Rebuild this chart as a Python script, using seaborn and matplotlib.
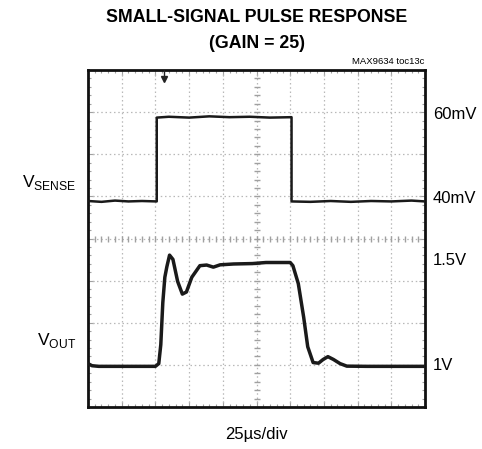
import numpy as np
import pandas as pd
import seaborn as sns
import matplotlib.pyplot as plt

# scope trace (time in us, 25us/div)
sense_t = [0, 10, 20, 30, 40, 51, 51, 60, 75, 90, 105, 120, 135, 151, 151, 165, 180, 195, 210, 225, 240, 250]
sense_mv = [39.5, 39.3, 39.6, 39.4, 39.5, 39.4, 59.3, 59.5, 59.3, 59.6, 59.4, 59.5, 59.3, 59.4, 39.4, 39.3, 39.5, 39.3, 39.5, 39.4, 39.6, 39.4]

out_t = [0, 3, 8, 50, 52.5, 54, 55.5, 57, 58.5, 60.5, 63, 66.5, 70, 73, 77, 83, 88, 93, 98,
         108, 122, 132, 150, 152, 156, 160, 163, 167, 171, 174.5, 178, 182, 187, 192, 207, 250]
out_v = [1.01, 1.0, 0.997, 0.997, 1.01, 1.1, 1.3, 1.42, 1.47, 1.525, 1.505, 1.40, 1.34, 1.35, 1.42,
         1.475, 1.478, 1.468, 1.479, 1.483, 1.485, 1.49, 1.49, 1.475, 1.39, 1.23, 1.09, 1.015,
         1.012, 1.03, 1.043, 1.03, 1.01, 0.998, 0.997, 0.997]

sense_labels = ["60mV", "40mV"]
sense_label_vals = [60, 40]
out_labels = ["1.5V", "1V"]
out_label_vals = [1.5, 1.0]

US_PER_DIV = 25


def sense_div(mv):
    # 10mV/div, 40mV sits on 5th division
    return 4.94 + (np.asarray(mv) - 40) / 10


def out_div(v):
    # 200mV/div, 1V sits on 1st division
    return 0.98 + (np.asarray(v) - 1.0) / 0.2


sense_df = pd.DataFrame({"div_x": np.array(sense_t) / US_PER_DIV, "div_y": sense_div(sense_mv)})
out_df = pd.DataFrame({"div_x": np.array(out_t) / US_PER_DIV, "div_y": out_div(out_v)})

sns.set_style("white")
plt.rcParams["font.family"] = ["Liberation Sans", "DejaVu Sans"]
plt.rcParams["mathtext.fontset"] = "custom"
plt.rcParams["mathtext.rm"] = "Liberation Sans"
plt.rcParams["text.color"] = "black"

fig = plt.figure(figsize=(4.82, 4.49), dpi=100)
ax = fig.add_axes([88 / 482, 1 - 407 / 449, 337 / 482, 337 / 449])
ax.set_xlim(0, 10)
ax.set_ylim(0, 8)

# graticule
grid_col = "#b8b8b8"
for i in range(1, 10):
    ax.axvline(i, color=grid_col, lw=0.9, ls=(0, (1.2, 2.2)), zorder=1)
for j in range(1, 8):
    ax.axhline(j, color=grid_col, lw=0.9, ls=(0, (1.2, 2.2)), zorder=1)
minor_x = np.arange(0.2, 10, 0.2)
minor_y = np.arange(0.2, 8, 0.2)
ax.plot(minor_x, np.full_like(minor_x, 4), ls="none", marker="|", ms=4, color="#a0a0a0", zorder=1)
ax.plot(np.full_like(minor_y, 5), minor_y, ls="none", marker="_", ms=4, color="#a0a0a0", zorder=1)

ax.set_xticks(range(0, 11))
ax.set_yticks(range(0, 9))
ax.set_xticks(minor_x, minor=True)
ax.set_yticks(minor_y, minor=True)
ax.tick_params(which="both", direction="in", top=True, right=True, bottom=True, left=True,
               labelbottom=False, labelleft=False, color="#a0a0a0")
ax.tick_params(which="major", length=4, width=0.8)
ax.tick_params(which="minor", length=2.5, width=0.8)
for sp in ax.spines.values():
    sp.set_linewidth(2.0)
    sp.set_color("#111111")

sns.lineplot(data=sense_df, x="div_x", y="div_y", ax=ax, estimator=None, sort=False,
             color="#1a1a1a", lw=1.8, zorder=3)
sns.lineplot(data=out_df, x="div_x", y="div_y", ax=ax, estimator=None, sort=False,
             color="#1a1a1a", lw=2.5, zorder=3)
ax.set_xlabel("")
ax.set_ylabel("")

# trigger marker
ax.plot([2.26], [7.78], marker="v", ms=5, color="#222222", zorder=4)
ax.plot([2.26, 2.26], [7.8, 8.0], color="#222222", lw=1, zorder=4)

# right-hand level labels
for lab, val in zip(sense_labels, sense_label_vals):
    ax.text(1.024, float(sense_div(val)), lab, transform=ax.get_yaxis_transform(),
            ha="left", va="center", fontsize=12)
for lab, val in zip(out_labels, out_label_vals):
    ax.text(1.024, float(out_div(val)), lab, transform=ax.get_yaxis_transform(),
            ha="left", va="center", fontsize=12)

fig.text(257 / 482, 1 - 17 / 449, "SMALL-SIGNAL PULSE RESPONSE", ha="center", va="center",
         fontsize=12.8, fontweight="bold")
fig.text(257 / 482, 1 - 43 / 449, "(GAIN = 25)", ha="center", va="center",
         fontsize=12.8, fontweight="bold")
fig.text(424 / 482, 1 - 62 / 449, "MAX9634 toc13c", ha="right", va="center", fontsize=6.8)
fig.text(76 / 482, 1 - 183 / 449, r"V$_{\rm SENSE}$", ha="right", va="center", fontsize=12.5)
fig.text(76 / 482, 1 - 341 / 449, r"V$_{\rm OUT}$", ha="right", va="center", fontsize=12.5)
fig.text(256 / 482, 1 - 435 / 449, "25µs/div", ha="center", va="center", fontsize=12)

fig.savefig("out.png", dpi=100)
